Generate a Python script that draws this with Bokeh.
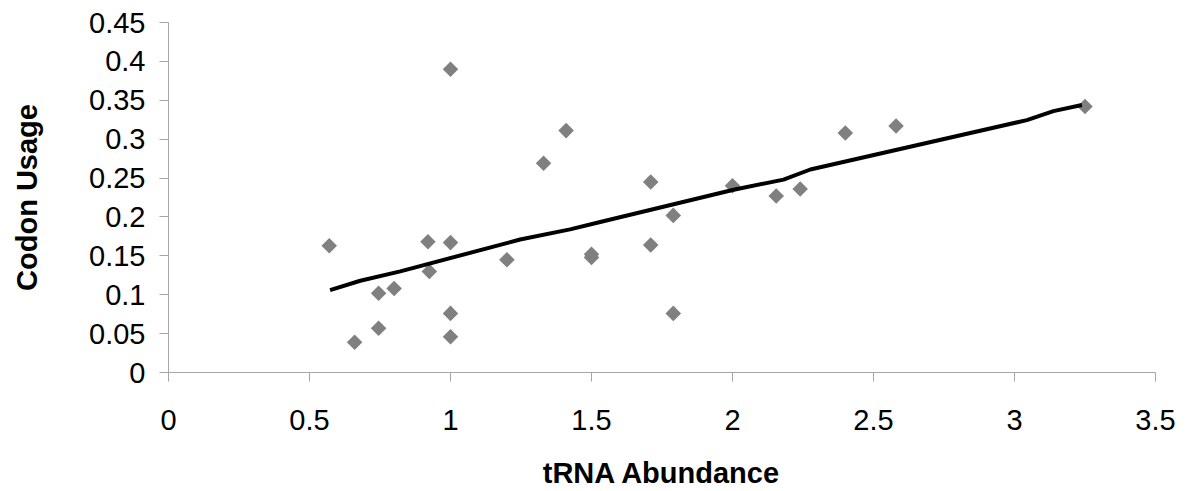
import math
from bokeh.plotting import figure
from bokeh.models import FixedTicker
from bokeh.embed import file_html
from bokeh.resources import INLINE

# Scatter data: tRNA abundance vs codon usage
trna_abundance = [0.57, 0.66, 0.745, 0.745, 0.80, 0.92, 0.925, 1.0, 1.0, 1.0, 1.0,
                  1.2, 1.33, 1.41, 1.5, 1.5, 1.71, 1.71, 1.79, 1.79, 2.0, 2.155,
                  2.24, 2.4, 2.58, 3.25]
codon_usage = [0.163, 0.039, 0.102, 0.057, 0.108, 0.168, 0.130, 0.390, 0.167, 0.076,
               0.046, 0.145, 0.269, 0.311, 0.152, 0.148, 0.245, 0.164, 0.202, 0.076,
               0.240, 0.227, 0.236, 0.308, 0.317, 0.342]

# Trend line
trend_x = [0.573, 0.68, 0.822, 1.247, 1.424, 1.531, 2.004, 2.181, 2.276, 3.044, 3.138, 3.239]
trend_y = [0.106, 0.118, 0.130, 0.171, 0.184, 0.1935, 0.235, 0.248, 0.261, 0.3245, 0.336, 0.344]

# Ticks
x_ticks = [0, 0.5, 1, 1.5, 2, 2.5, 3, 3.5]
x_tick_labels = ["0", "0.5", "1", "1.5", "2", "2.5", "3", "3.5"]
y_ticks = [0, 0.05, 0.1, 0.15, 0.2, 0.25, 0.3, 0.35, 0.4, 0.45]
y_tick_labels = ["0", "0.05", "0.1", "0.15", "0.2", "0.25", "0.3", "0.35", "0.4", "0.45"]

FONT = "Liberation Sans"
AXIS_COLOR = "#a6a6a6"

p = figure(width=1194, height=491, x_range=(0, 3.5), y_range=(0, 0.45),
           output_backend="svg", toolbar_location=None,
           min_border_left=168, min_border_top=22, min_border_right=39,
           min_border_bottom=117)
p.outline_line_color = None
p.xgrid.visible = False
p.ygrid.visible = False
p.background_fill_color = "white"
p.border_fill_color = "white"

for ax in (p.xaxis[0], p.yaxis[0]):
    ax.axis_line_color = AXIS_COLOR
    ax.major_tick_line_color = AXIS_COLOR
    ax.minor_tick_line_color = None
    ax.major_tick_in = 0
    ax.major_tick_out = 9
    ax.major_label_text_font = FONT
    ax.major_label_text_font_size = "29px"
    ax.major_label_text_color = "black"
    ax.axis_label_text_font = FONT
    ax.axis_label_text_font_size = "29px"
    ax.axis_label_text_font_style = "bold"
    ax.axis_label_text_color = "black"

p.xaxis.ticker = FixedTicker(ticks=x_ticks)
p.xaxis.major_label_overrides = {t: l for t, l in zip(x_ticks, x_tick_labels)}
p.xaxis.major_label_standoff = 28
p.xaxis.axis_label = "tRNA Abundance"
p.xaxis.axis_label_standoff = 24

p.yaxis.ticker = FixedTicker(ticks=y_ticks)
p.yaxis.major_label_overrides = {t: l for t, l in zip(y_ticks, y_tick_labels)}
p.yaxis.major_label_standoff = 14
p.yaxis.axis_label = "Codon Usage"
p.yaxis.axis_label_standoff = 43

p.scatter(trna_abundance, codon_usage, marker="square", angle=math.pi / 4,
          size=11, fill_color="#808080", line_color=None)
p.line(trend_x, trend_y, line_width=4, line_color="black")

open("out.html", "w").write(file_html(p, INLINE))
